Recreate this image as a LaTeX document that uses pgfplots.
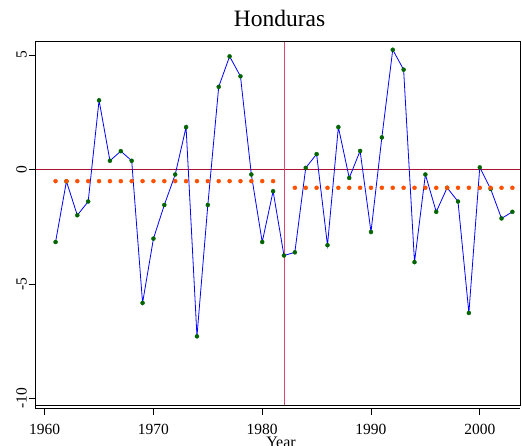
\documentclass[border=0pt]{standalone}
\usepackage{pgfplots}
\usepackage{pgfplotstable}
\pgfplotsset{compat=1.18}
\usepackage{fontspec}
\setmainfont{Liberation Serif}
\definecolor{zeroline}{RGB}{175,15,50}
\definecolor{vline}{RGB}{222,70,110}
\definecolor{dotorange}{RGB}{255,80,0}
\definecolor{dotgreen}{RGB}{0,100,0}
\pgfplotstableread{
year val
1961 -3.17
1962 -0.52
1963 -2.00
1964 -1.40
1965 3.02
1966 0.38
1967 0.80
1968 0.38
1969 -5.83
1970 -3.02
1971 -1.55
1972 -0.22
1973 1.85
1974 -7.29
1975 -1.55
1976 3.61
1977 4.94
1978 4.07
1979 -0.22
1980 -3.17
1981 -0.95
1982 -3.76
1983 -3.62
1984 0.07
1985 0.67
1986 -3.31
1987 1.85
1988 -0.37
1989 0.81
1990 -2.73
1991 1.40
1992 5.23
1993 4.36
1994 -4.05
1995 -0.22
1996 -1.85
1997 -0.80
1998 -1.40
1999 -6.27
2000 0.09
2001 -0.85
2002 -2.14
2003 -1.85
}\growth
\pgfplotstableread{
year val
1961 -0.51
1962 -0.51
1963 -0.51
1964 -0.51
1965 -0.51
1966 -0.51
1967 -0.51
1968 -0.51
1969 -0.51
1970 -0.51
1971 -0.51
1972 -0.51
1973 -0.51
1974 -0.51
1975 -0.51
1976 -0.51
1977 -0.51
1978 -0.51
1979 -0.51
1980 -0.51
1981 -0.51
}\meanpre
\pgfplotstableread{
year val
1983 -0.80
1984 -0.80
1985 -0.80
1986 -0.80
1987 -0.80
1988 -0.80
1989 -0.80
1990 -0.80
1991 -0.80
1992 -0.80
1993 -0.80
1994 -0.80
1995 -0.80
1996 -0.80
1997 -0.80
1998 -0.80
1999 -0.80
2000 -0.80
2001 -0.80
2002 -0.80
2003 -0.80
}\meanpost
\begin{document}
\begin{tikzpicture}
\begin{axis}[
  at={(35pt,40pt)}, anchor=south west,
  scale only axis, width=485pt, height=363.5pt,
  xmin=1959.11, xmax=2003.7, ymin=-10.29, ymax=5.59,
  axis x line*=bottom, axis y line*=left,
  axis x line shift=3pt,
  axis line style={-, line width=0.8pt, black},
  xtick={1960,1970,1980,1990,2000},
  xticklabels={1960,1970,1980,1990,2000},
  ytick={-10,-5,0,5},
  yticklabels={-10,-5,0,5},
  tick align=outside,
  major tick length=6.5pt,
  tick style={black, line width=0.8pt},
  ticklabel style={font=\fontsize{15.5}{18}\selectfont},
  xticklabel style={anchor=base, inner sep=0pt, yshift=-19.5pt},
  yticklabel style={xshift=-2pt, rotate=90, anchor=base, inner sep=0pt},
  title={Honduras},
  title style={font=\fontsize{23.5}{28}\selectfont, at={(axis description cs:0.5,1)}, anchor=base, inner sep=0pt, yshift=9pt, xshift=2pt},
  xlabel={Year},
  xlabel style={font=\fontsize{16}{19}\selectfont, at={(axis description cs:0.5,0)}, anchor=north, inner sep=0pt, yshift=-32pt, xshift=3.5pt},
  clip=false,
]
\addplot[zeroline, line width=0.8pt] coordinates {(1959.11,0) (2003.7,0)};
\addplot[vline, line width=0.9pt] coordinates {(1982,-10.29) (1982,5.59)};
\addplot[blue, line width=0.8pt] table[x=year, y=val] {\growth};
\addplot[only marks, mark=*, mark size=2pt, dotgreen] table[x=year, y=val] {\growth};
\addplot[only marks, mark=*, mark size=2pt, dotorange] table[x=year, y=val] {\meanpre};
\addplot[only marks, mark=*, mark size=2pt, dotorange] table[x=year, y=val] {\meanpost};
\draw[line width=0.8pt, black] (rel axis cs:0,0) rectangle (rel axis cs:1,1);
\draw[line width=0.8pt, black] (rel axis cs:0,0) -- ([yshift=-3pt]rel axis cs:0,0);
\end{axis}
\pgfresetboundingbox
\path (0pt,0pt) rectangle (522pt,445pt);
\end{tikzpicture}
\end{document}
